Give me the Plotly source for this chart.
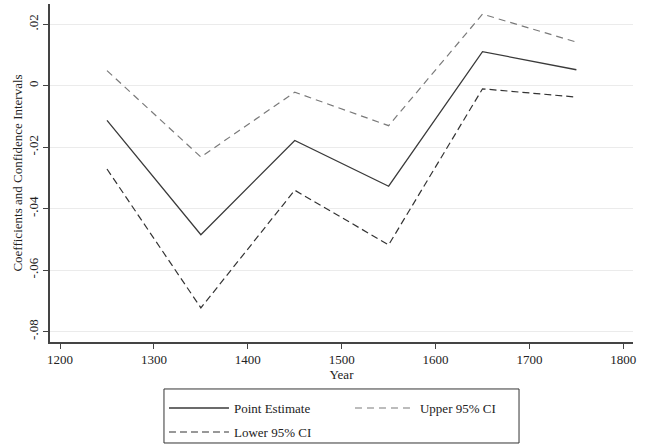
import plotly.graph_objects as go

years = [1250, 1350, 1450, 1550, 1650, 1750]
point_est = [-0.0113, -0.0485, -0.0178, -0.0327, 0.0111, 0.0052]
upper_ci = [0.0049, -0.0232, -0.0021, -0.0130, 0.0233, 0.0142]
lower_ci = [-0.0271, -0.0723, -0.0340, -0.0518, -0.0010, -0.0037]

x_ticks = [1200, 1300, 1400, 1500, 1600, 1700, 1800]
y_ticks = [0.02, 0, -0.02, -0.04, -0.06, -0.08]
y_ticktext = [".02", "0", "-.02", "-.04", "-.06", "-.08"]

FONT = "Liberation Serif"

fig = go.Figure()
fig.add_trace(go.Scatter(x=years, y=point_est, mode="lines", name="Point Estimate",
                         line=dict(color="#3a3a3a", width=1.3), legend="legend"))
fig.add_trace(go.Scatter(x=years, y=upper_ci, mode="lines", name="Upper 95% CI",
                         line=dict(color="#7a7a7a", width=1.2, dash="7px,5px"),
                         legend="legend"))
fig.add_trace(go.Scatter(x=years, y=lower_ci, mode="lines", name="Lower 95% CI",
                         line=dict(color="#333333", width=1.2, dash="7px,4px"),
                         legend="legend2"))

leg_common = dict(
    orientation="h", xanchor="left", yanchor="top",
    borderwidth=0, bgcolor="rgba(0,0,0,0)",
    entrywidth=111, entrywidthmode="pixels", itemwidth=60,
    font=dict(family=FONT, size=13, color="#222222"),
    traceorder="normal",
)

fig.update_layout(
    width=647, height=444,
    margin=dict(l=50, r=14, t=4, b=102, autoexpand=False),
    paper_bgcolor="white", plot_bgcolor="white",
    font=dict(family=FONT, size=13, color="#222222"),
    showlegend=True,
    legend=dict(x=0.1955, y=-0.151, **leg_common),
    legend2=dict(x=0.1955, y=-0.222, **leg_common),
    shapes=[dict(type="rect", xref="paper", yref="paper",
                 x0=0.1955, x1=0.8045, y0=-0.139, y1=-0.2988,
                 line=dict(color="#333333", width=1), fillcolor="rgba(0,0,0,0)",
                 layer="above")],
    xaxis=dict(
        range=[1189.3, 1810.3], tickvals=x_ticks, ticks="outside", ticklen=5,
        tickcolor="#444444", showline=True, linecolor="#444444", linewidth=1.5,
        showgrid=False, zeroline=False, automargin=False,
        title=dict(text="Year", standoff=0, font=dict(family=FONT, size=13)),
        tickfont=dict(family=FONT, size=13),
    ),
    yaxis=dict(
        range=[-0.0834, 0.0266], tickvals=y_ticks, ticktext=y_ticktext,
        tickangle=-90, ticks="outside", ticklen=5, tickcolor="#444444",
        showline=True, linecolor="#444444", linewidth=1.5, automargin=False,
        showgrid=True, gridcolor="#ebebeb", gridwidth=1, zeroline=False,
        title=dict(text="Coefficients and Confidence Intervals", standoff=0,
                   font=dict(family=FONT, size=13)),
        tickfont=dict(family=FONT, size=13),
    ),
)

fig.write_html("out.html", config={"displayModeBar": False},
               post_script="document.body.style.margin='0';")
